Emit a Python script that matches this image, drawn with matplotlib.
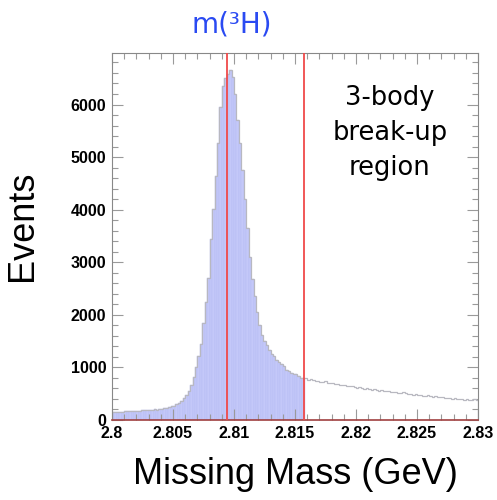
import matplotlib
matplotlib.use("Agg")
import matplotlib.pyplot as plt
from matplotlib.ticker import MultipleLocator
import numpy as np

# Missing-mass histogram, 150 bins of 0.2 MeV between 2.800 and 2.830 GeV
BIN_LO, BIN_HI, N_BINS = 2.800, 2.830, 150

counts_low = [148, 152, 150, 156, 158, 162, 165, 170, 168, 175,
              178, 176, 182, 188, 185, 192, 196, 202, 198, 208,
              214, 220, 230, 240, 258]
counts_peak = [275, 300, 330, 360, 410, 470, 560, 670, 820, 1000,
               1210, 1450, 1850, 2250, 2700, 3450, 4010, 4640, 5270, 5950,
               6350, 6500, 6580, 6650, 6520, 6200, 5700, 5270, 4750, 4200,
               3650, 3100, 2680, 2360, 2050, 1800, 1620, 1500, 1420, 1330,
               1260, 1210, 1150, 1100, 1060, 1020, 960, 930, 900, 880,
               870, 840, 800, 790]
counts_tail = [790, 770, 780, 755, 745, 750, 730, 725, 735, 710,
               700, 705, 685, 690, 670, 665, 675, 650, 640, 645,
               625, 610, 620, 600, 595, 605, 585, 580, 590, 570,
               560, 568, 555, 545, 552, 538, 530, 540, 522, 515,
               525, 505, 500, 495, 480, 488, 472, 478, 465, 458,
               466, 450, 445, 452, 438, 432, 440, 420, 415, 422,
               408, 412, 400, 405, 395, 388, 398, 385, 380, 390,
               382]

M_TRITON = 2.8094     # line marking m(3H)
M_BREAKUP = 2.8157    # 3-body break-up threshold

counts = np.array(counts_low + counts_peak + counts_tail, dtype=float)
edges = np.linspace(BIN_LO, BIN_HI, N_BINS + 1)
width = edges[1] - edges[0]

fig = plt.figure(figsize=(4.97, 5.0), dpi=100)
ax = fig.add_axes([0.2254, 0.160, 0.7364, 0.734])

# filled part below the break-up threshold
sel = edges[:-1] < M_BREAKUP - 1e-9
ax.bar(edges[:-1][sel], counts[sel], width=width, align="edge",
       color="#c4c8f9", edgecolor="#b2b7f3", linewidth=0.25, zorder=1)
ax.stairs(counts, edges, color="#b8b8c0", linewidth=0.9, zorder=2)

ax.axvline(M_TRITON, color="#f04a4a", linewidth=1.3, zorder=3)
ax.axvline(M_BREAKUP, color="#f04a4a", linewidth=1.3, zorder=3)

ax.set_xlim(BIN_LO, BIN_HI)
ax.set_ylim(0, 6980)
ax.xaxis.set_minor_locator(MultipleLocator(0.001))
ax.yaxis.set_major_locator(MultipleLocator(1000))
ax.yaxis.set_minor_locator(MultipleLocator(200))
ax.set_xticks(np.arange(2.8, 2.8301, 0.005))
ax.set_xticklabels(["2.8", "2.805", "2.81", "2.815", "2.82", "2.825", "2.83"])

for lab in ax.get_xticklabels() + ax.get_yticklabels():
    lab.set_fontfamily("Liberation Sans")
    lab.set_fontweight("bold")
    lab.set_fontsize(11.5)

ax.tick_params(which="both", direction="in", top=True, right=True,
               color="#9a9a9a", width=0.8)
ax.tick_params(which="major", length=8, pad=4)
ax.tick_params(which="minor", length=4)

for side in ["left", "top", "right"]:
    ax.spines[side].set_color("#888888")
ax.spines["bottom"].set_color("#a04040")
ax.spines["bottom"].set_linewidth(1.2)

fig.text(0.046, 0.548, "Events", rotation=90, ha="center", va="center",
         fontsize=26, family="Liberation Sans")
fig.text(0.594, 0.052, "Missing Mass (GeV)", ha="center", va="center",
         fontsize=26, family="Liberation Sans")
fig.text(0.467, 0.952, "m(³H)", ha="center", va="center",
         fontsize=20, color="#2a4af2")

ax.text(0.759, 0.781, "3-body\nbreak-up\nregion", transform=ax.transAxes,
        ha="center", va="center", fontsize=18.5, linespacing=1.45)

fig.savefig("out.png", dpi=100)
